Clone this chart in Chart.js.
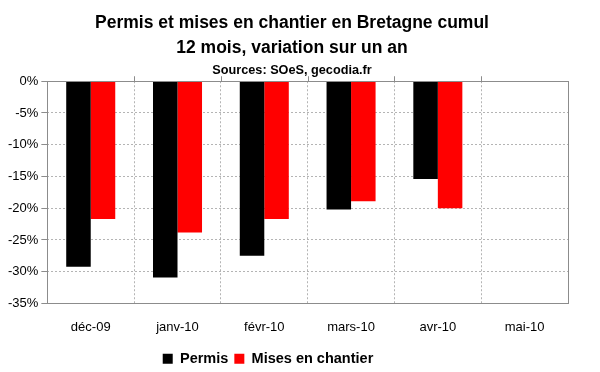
<!DOCTYPE html>
<html>
<head>
<meta charset="utf-8">
<script src="https://cdn.jsdelivr.net/npm/chart.js@4"></script>
<style>
  html, body { margin:0; padding:0; background:#fff; }
  #wrap { width:600px; height:372px; }
</style>
</head>
<body>
<div id="wrap"><canvas id="c"></canvas></div>
<script>
const months = ["déc-09","janv-10","févr-10","mars-10","avr-10","mai-10"];
const permis = [-29.2,-30.9,-27.5,-20.2,-15.4,null];
const mises = [-21.7,-23.8,-21.7,-18.9,-20.0,null];
const seriesNames = ["Permis","Mises en chantier"];

const FONT = "'Liberation Sans', Arial, sans-serif";
const GRID = "#b4b4b4";
const FRAME = "#8c8c8c";

// nudges title/legend like the excel original, draws the plot frame + top tick marks
const framePlugin = {
  id:"frame",
  beforeDraw(chart){
    chart.boxes.forEach(b => {
      if(b._shifted || b.axis) return;
      if(b === chart.legend){
        b.left -= 18.5; b.right -= 18.5; b.top += 4; b.bottom += 4;
      } else {
        b.left += 5.5; b.right += 5.5;
      }
      b._shifted = true;
    });
  },
  afterDatasetsDraw(chart){
    const {ctx, chartArea:a} = chart;
    ctx.save();
    ctx.strokeStyle = FRAME; ctx.lineWidth = 1;
    ctx.strokeRect(Math.round(a.left)+0.5, Math.round(a.top)+0.5, Math.round(a.right-a.left), Math.round(a.bottom-a.top));
    const step = (a.right-a.left)/months.length;
    ctx.beginPath();
    for(let i=1;i<months.length;i++){
      const px = Math.round(a.left+step*i)+0.5;
      ctx.moveTo(px, a.top); ctx.lineTo(px, a.top-5);
    }
    ctx.stroke();
    ctx.restore();
  }
};

new Chart(document.getElementById("c"), {
  type:"bar",
  data:{
    labels:months,
    datasets:[
      { label:seriesNames[0], data:permis, backgroundColor:"#000000" },
      { label:seriesNames[1], data:mises, backgroundColor:"#ff0000" }
    ]
  },
  options:{
    responsive:true,
    maintainAspectRatio:false,
    animation:false,
    layout:{ padding:{ left:5, right:32, top:0, bottom:0 } },
    datasets:{ bar:{ categoryPercentage:0.565, barPercentage:1 } },
    scales:{
      x:{
        afterFit:s => { s.height = 38; },
        grid:{ color:GRID, drawTicks:false, offset:true },
        border:{ display:false, dash:[2,2] },
        ticks:{ color:"#000", font:{ family:FONT, size:13 }, padding:16, maxRotation:0 }
      },
      y:{
        min:-35, max:0,
        grid:{ color:GRID, tickColor:FRAME, tickLength:6 },
        border:{ display:false, dash:[2,2] },
        ticks:{ stepSize:5, color:"#000", font:{ family:FONT, size:13 }, padding:3,
          callback:v => v + "%" }
      }
    },
    plugins:{
      title:{
        display:true,
        text:["Permis et mises en chantier en Bretagne cumul","12 mois, variation sur un an"],
        color:"#000",
        font:{ family:FONT, size:17.5, weight:"bold", lineHeight:"25px" },
        padding:{ top:11, bottom:2 }
      },
      subtitle:{
        display:true,
        text:"Sources: SOeS, gecodia.fr",
        color:"#000",
        font:{ family:FONT, size:12.7, weight:"bold", lineHeight:1.2 },
        padding:{ top:0, bottom:3 }
      },
      legend:{
        position:"bottom",
        labels:{ color:"#000", font:{ family:FONT, size:14.5, weight:"bold" }, boxWidth:10, boxHeight:10, padding:6 }
      },
      tooltip:{ enabled:false }
    }
  },
  plugins:[framePlugin]
});
</script>
</body>
</html>
